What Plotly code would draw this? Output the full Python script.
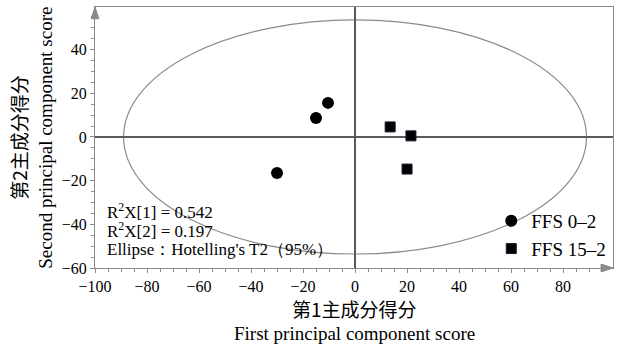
import plotly.graph_objects as go

# Data
ffs0_x = [-10.4, -15.0, -30.0]
ffs0_y = [15.6, 8.7, -16.5]
ffs15_x = [13.5, 21.5, 20.0]
ffs15_y = [4.6, 0.5, -14.7]
ellipse_a = 89.0   # semi-axis along PC1
ellipse_b = 53.6   # semi-axis along PC2
x_ticks = [-100, -80, -60, -40, -20, 0, 20, 40, 60, 80]
y_ticks = [-60, -40, -20, 0, 20, 40]
r2x1 = 0.542
r2x2 = 0.197
note_lines = [f"R<sup>2</sup>X[1] = {r2x1}",
              f"R<sup>2</sup>X[2] = {r2x2}",
              "Ellipse：Hotelling's T2（95%）"]

SERIF = "Liberation Serif, Times New Roman, serif"
CJK = "Noto Sans CJK SC"
AX = "#8a8a8a"

fig = go.Figure()
fig.add_trace(go.Scatter(x=ffs0_x, y=ffs0_y, mode="markers", name="FFS 0–2",
                         marker=dict(symbol="circle", size=12, color="black")))
fig.add_trace(go.Scatter(x=ffs15_x, y=ffs15_y, mode="markers", name="FFS 15–2",
                         marker=dict(symbol="square", size=10, color="black",
                                     line=dict(color="#1a1a3a", width=1))))

fig.add_shape(type="circle", xref="x", yref="y",
              x0=-ellipse_a, x1=ellipse_a, y0=-ellipse_b, y1=ellipse_b,
              line=dict(color="#8c8c8c", width=1.2), layer="below")

# small arrow heads at the ends of the axis lines (paper coordinates)
fig.add_shape(type="path", xref="paper", yref="paper",
              path="M 1.0,0 L 0.977,0.015 L 0.977,-0.015 Z",
              fillcolor=AX, line=dict(color=AX, width=1))
fig.add_shape(type="path", xref="paper", yref="paper",
              path="M 0,1.0 L 0.0075,0.955 L -0.0075,0.955 Z",
              fillcolor=AX, line=dict(color=AX, width=1))

for upd, rng, tv in ((fig.update_xaxes, [-100, 99.2], x_ticks),
                     (fig.update_yaxes, [-60, 59.5], y_ticks)):
    upd(range=rng, tickvals=tv, showgrid=False, showline=True, linecolor=AX,
        linewidth=1, mirror=True, ticks="outside", ticklen=4, tickcolor=AX,
        automargin=False, zeroline=True, zerolinecolor="#5a5a5a", zerolinewidth=1.6,
        minor=dict(ticks="outside", ticklen=3, tickcolor=AX, dtick=5))
    upd(tickfont_family=SERIF, tickfont_size=16, tickfont_color="black")

anns = []
for line, yp in zip(note_lines, [0.218, 0.146, 0.069]):
    anns.append(dict(xref="paper", yref="paper", x=0.019, y=yp, xanchor="left",
                     yanchor="middle", align="left", showarrow=False, text=line,
                     font=dict(family=SERIF, size=17, color="black")))
anns += [
    dict(xref="paper", yref="paper", x=0.5, y=-0.154, xanchor="center", yanchor="middle",
         showarrow=False, text="第1主成分得分", font=dict(family=CJK, size=19, color="black")),
    dict(xref="paper", yref="paper", x=0.5, y=-0.250, xanchor="center", yanchor="middle",
         showarrow=False, text="First principal component score",
         font=dict(family=SERIF, size=19, color="black")),
    dict(xref="paper", yref="paper", x=-0.148, y=0.5, xanchor="center", yanchor="middle",
         showarrow=False, textangle=-90, text="第2主成分得分",
         font=dict(family=CJK, size=19, color="black")),
    dict(xref="paper", yref="paper", x=-0.096, y=0.5, xanchor="center", yanchor="middle",
         showarrow=False, textangle=-90, text="Second principal component score",
         font=dict(family=SERIF, size=19, color="black")),
]

fig.update_layout(
    width=617, height=351,
    margin=dict(l=95, r=4, t=7, b=83),
    paper_bgcolor="white", plot_bgcolor="white",
    font=dict(family=SERIF, color="black"),
    showlegend=True,
    legend=dict(x=0.765, y=0.0, xanchor="left", yanchor="bottom",
                bgcolor="rgba(0,0,0,0)", itemwidth=30, tracegroupgap=0,
                font=dict(family=SERIF, size=19, color="black")),
    annotations=anns,
)

fig.write_html("out.html", config={"displayModeBar": False},
               post_script="document.body.style.margin='0';")
